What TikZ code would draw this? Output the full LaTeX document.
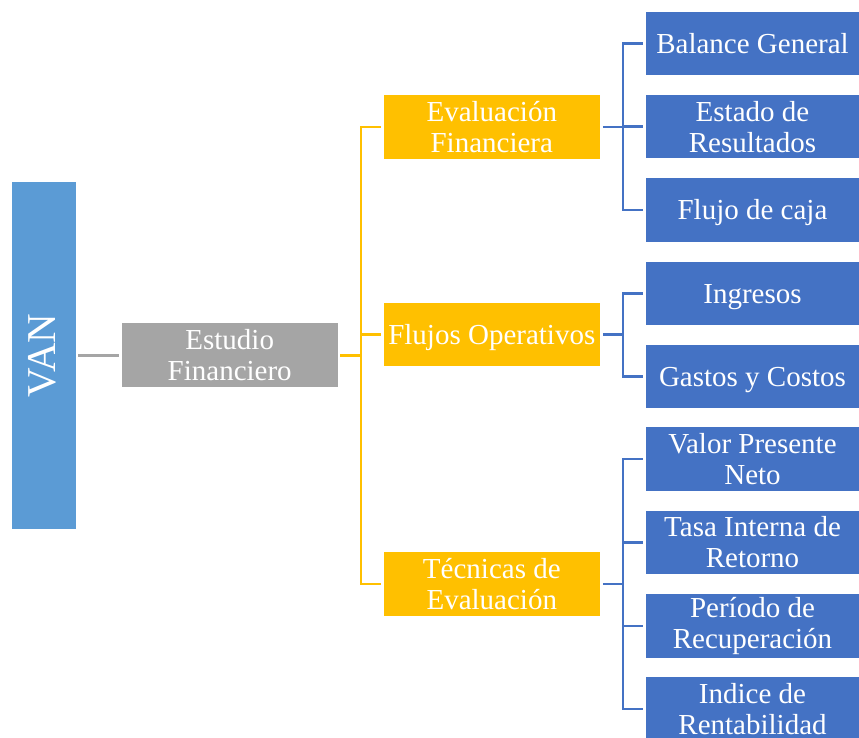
\documentclass[tikz,border=0pt]{standalone}
\usepackage{fontspec}
\setmainfont{Liberation Serif}
\definecolor{vanblue}{HTML}{5B9BD5}
\definecolor{midgray}{HTML}{A5A5A5}
\definecolor{gold}{HTML}{FFC000}
\definecolor{leafblue}{HTML}{4472C4}
\begin{document}
\begin{tikzpicture}[x=1pt,y=-1pt,
  box/.style={rectangle, inner sep=0pt, text=white, align=center,
    font=\fontsize{29}{31}\selectfont},
  oneline/.style={text height=19.5pt, text depth=0pt},
  rootbox/.style={rectangle, inner sep=0pt, fill=vanblue, minimum width=63.5pt, minimum height=347pt},
  studybox/.style={box, fill=midgray, minimum width=216pt, minimum height=64pt},
  groupbox/.style={box, fill=gold, minimum width=215.5pt, minimum height=63.5pt},
  leafbox/.style={box, fill=leafblue, minimum width=213pt, minimum height=63.5pt},
  grayline/.style={draw=midgray, line width=2.5pt},
  goldline/.style={draw=gold, line width=2.5pt},
  blueline/.style={draw=leafblue, line width=2.5pt},
]
\useasboundingbox (0,0) rectangle (859,738);

% root and study
\node[rootbox] (van) at (43.75,355.5) {};
\node[text=white, font=\fontsize{41}{41}\selectfont, rotate=90] (vanlbl) at (42.5,355.5) {VAN};
\node[studybox] (est) at (229.7,355.3) {Estudio\\Financiero};

% second level
\node[groupbox] (g1) at (491.8,126.8) {Evaluación\\Financiera};
\node[groupbox, oneline] (g2) at (491.8,334.7) {Flujos Operativos};
\node[groupbox] (g3) at (491.8,584.2) {Técnicas de\\Evaluación};

% leaves
\node[leafbox, oneline] (l1) at (752.5,43.3)  {Balance General};
\node[leafbox] (l2) at (752.5,126.7) {Estado de\\Resultados};
\node[leafbox, oneline] (l3) at (752.5,210.0) {Flujo de caja};
\node[leafbox, oneline] (l4) at (752.5,293.3) {Ingresos};
\node[leafbox, oneline] (l5) at (752.5,376.7) {Gastos y Costos};
\node[leafbox] (l6) at (752.5,459.2) {Valor Presente\\Neto};
\node[leafbox] (l7) at (752.5,542.5) {Tasa Interna de\\Retorno};
\node[leafbox] (l8) at (752.5,625.8) {Período de\\Recuperación};
\node[leafbox] (l9) at (752.5,709.0) {Indice de\\Rentabilidad};

% trunks
\coordinate (ot) at (361,355.3);
\coordinate (bt) at (623,0);

% connectors
\draw[grayline, shorten <=2.5pt, shorten >=2.5pt] (van.east |- est.west) -- (est.west);

\draw[goldline, shorten <=2.5pt] (est.east) -- (ot);
\draw[goldline, line cap=rect] (ot |- g1.west) -- (ot |- g3.west);
\foreach \g in {g1,g2,g3}
  \draw[goldline, shorten >=2.5pt] (ot |- \g.west) -- (\g.west);

\draw[blueline, shorten <=3pt] (g1.east) -- (bt |- g1.east);
\draw[blueline, shorten <=3pt] (g2.east) -- (bt |- g2.east);
\draw[blueline, shorten <=3pt] (g3.east) -- (bt |- g3.east);
\draw[blueline, line cap=rect] (bt |- l1.west) -- (bt |- l3.west);
\draw[blueline, line cap=rect] (bt |- l4.west) -- (bt |- l5.west);
\draw[blueline, line cap=rect] (bt |- l6.west) -- (bt |- l9.west);
\foreach \l in {l1,l2,l3,l4,l5,l6,l7,l8,l9}
  \draw[blueline, shorten >=2.7pt] (bt |- \l.west) -- (\l.west);
\end{tikzpicture}
\end{document}
